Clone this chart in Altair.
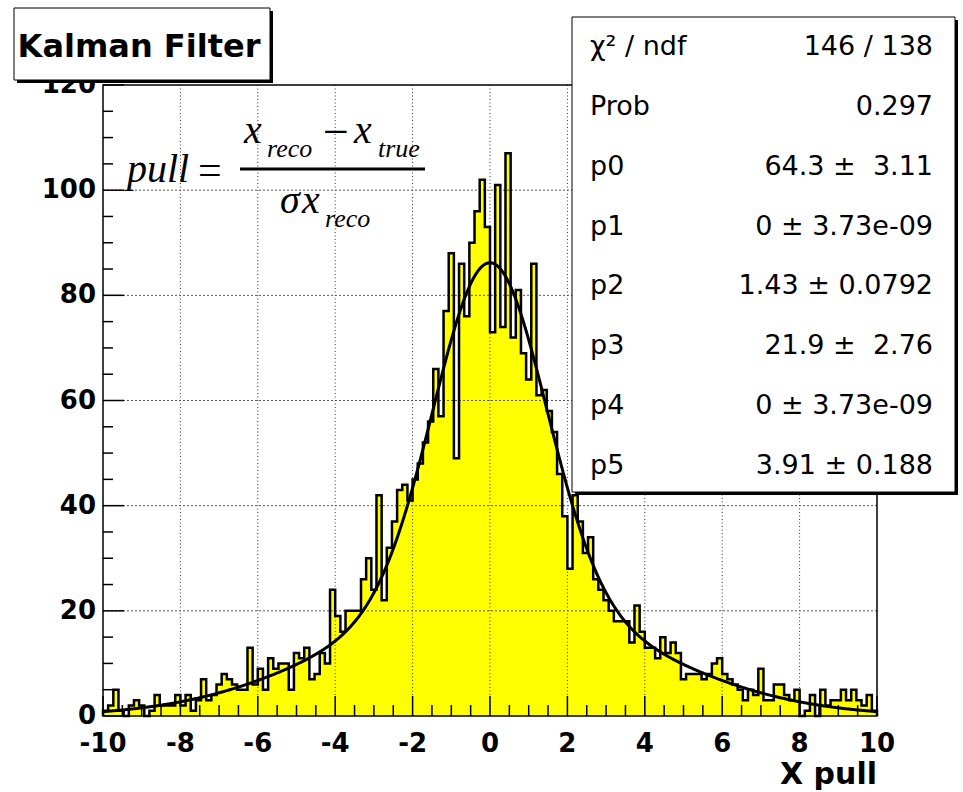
import altair as alt
import numpy as np
import pandas as pd

# ---------------------------------------------------------------
# Histogram of the X pull: 150 bins over [-10, 10]
# ---------------------------------------------------------------
X_MIN, X_MAX, N_BINS = -10.0, 10.0, 150
counts = [
    1, 2, 5, 1, 0, 2, 3, 2, 0, 1,
    4, 2, 2, 2, 4, 2, 4, 1, 3, 7,
    3, 4, 6, 8, 7, 6, 5, 5, 13, 6,
    9, 5, 11, 9, 10, 10, 5, 12, 11, 13,
    7, 8, 12, 10, 24, 19, 16, 20, 20, 20,
    26, 30, 24, 42, 22, 32, 37, 43, 44, 41,
    45, 48, 52, 56, 66, 57, 77, 88, 49, 86,
    76, 90, 96, 102, 93, 73, 101, 74, 107, 72,
    81, 69, 64, 86, 61, 62, 58, 54, 46, 38,
    28, 42, 37, 31, 34, 26, 24, 22, 20, 18,
    18, 18, 14, 21, 16, 13, 13, 11, 15, 12,
    14, 12, 7, 8, 8, 8, 7, 8, 10, 11,
    8, 7, 6, 5, 3, 5, 4, 9, 3, 3,
    6, 6, 4, 3, 5, 0, 1, 4, 0, 5,
    2, 3, 3, 5, 3, 5, 3, 2, 4, 1,
]

# Double-Gaussian fit result (p0..p5)
fit_params = [64.3, 0.0, 1.43, 21.9, 0.0, 3.91]

# Fit statistics box
stat_names = ["χ² / ndf", "Prob", "p0", "p1", "p2", "p3", "p4", "p5"]
stat_values = [
    "146 / 138",
    "0.297",
    "64.3 ±\u00a0 3.11",
    "0 ± 3.73e-09",
    "1.43 ± 0.0792",
    "21.9 ±\u00a0 2.76",
    "0 ± 3.73e-09",
    "3.91 ± 0.188",
]

# Axis ticks
x_major = [-10, -8, -6, -4, -2, 0, 2, 4, 6, 8, 10]
x_minor = [v / 2 for v in range(-20, 21) if v % 4 != 0]
y_major = [0, 20, 40, 60, 80, 100, 120]
y_minor = [v for v in range(0, 121, 5) if v % 20 != 0]

W, H = 774, 631

x_scale = alt.Scale(domain=[X_MIN, X_MAX], nice=False, zero=False)
y_scale = alt.Scale(domain=[0, 120], nice=False, zero=False)

edges = np.linspace(X_MIN, X_MAX, N_BINS + 1)

# filled area (step), one extra point closes the last bin
area_df = pd.DataFrame({
    "x": list(edges[:-1]) + [X_MAX],
    "n": counts + [counts[-1]],
})

# contour: starts and ends on the baseline
outline_df = pd.DataFrame({
    "x": [X_MIN] + list(edges[:-1]) + [X_MAX, X_MAX],
    "n": [0] + counts + [counts[-1], 0],
})
outline_df["k"] = np.arange(len(outline_df))

p0, p1, p2, p3, p4, p5 = fit_params
xs = np.linspace(X_MIN, X_MAX, 801)
fit_df = pd.DataFrame({
    "x": xs,
    "f": p0 * np.exp(-0.5 * ((xs - p1) / p2) ** 2)
    + p3 * np.exp(-0.5 * ((xs - p4) / p5) ** 2),
})

LABEL_FONT = "DejaVu Sans"

fill = alt.Chart(area_df).mark_area(
    color="#ffff00", interpolate="step-after"
).encode(
    x=alt.X("x:Q", scale=x_scale, axis=None),
    y=alt.Y("n:Q", scale=y_scale, axis=None),
)

vgrid = alt.Chart(pd.DataFrame({"v": x_major[1:-1]})).mark_rule(
    color="#333333", strokeDash=[1, 2.5], strokeWidth=1
).encode(
    x=alt.X("v:Q", scale=x_scale, axis=None),
    y=alt.value(0), y2=alt.value(H),
)
hgrid = alt.Chart(pd.DataFrame({"v": y_major[1:-1]})).mark_rule(
    color="#555555", strokeDash=[2, 2], strokeWidth=1
).encode(
    y=alt.Y("v:Q", scale=y_scale, axis=None),
    x=alt.value(0), x2=alt.value(W),
)

outline = alt.Chart(outline_df).mark_line(
    color="black", strokeWidth=2.5, interpolate="step-after"
).encode(
    x=alt.X("x:Q", scale=x_scale, axis=None),
    y=alt.Y("n:Q", scale=y_scale, axis=None),
    order="k:Q",
)

curve = alt.Chart(fit_df).mark_line(color="black", strokeWidth=3).encode(
    x=alt.X("x:Q", scale=x_scale, axis=None),
    y=alt.Y("f:Q", scale=y_scale, axis=None),
)


# ticks drawn inside the frame
def x_ticks(vals, length):
    return alt.Chart(pd.DataFrame({"v": vals})).mark_rule(
        color="black", strokeWidth=1.5
    ).encode(
        x=alt.X("v:Q", scale=x_scale, axis=None),
        y=alt.value(H), y2=alt.value(H - length),
    )


def y_ticks(vals, length):
    return alt.Chart(pd.DataFrame({"v": vals})).mark_rule(
        color="black", strokeWidth=1.5
    ).encode(
        y=alt.Y("v:Q", scale=y_scale, axis=None),
        x=alt.value(0), x2=alt.value(length),
    )


# tick labels, placed through the same scales
x_labels = alt.Chart(pd.DataFrame({"v": x_major})).transform_calculate(
    txt="'' + datum.v"
).mark_text(
    font=LABEL_FONT, fontSize=26, fontWeight="bold", color="black",
    align="center", baseline="top",
).encode(
    x=alt.X("v:Q", scale=x_scale, axis=None),
    y=alt.value(H + 15),
    text="txt:N",
)
y_labels = alt.Chart(pd.DataFrame({"v": y_major})).transform_calculate(
    txt="'' + datum.v"
).mark_text(
    font=LABEL_FONT, fontSize=26, fontWeight="bold", color="black",
    align="right", baseline="middle",
).encode(
    y=alt.Y("v:Q", scale=y_scale, axis=None),
    x=alt.value(-7),
    text="txt:N",
)

one = pd.DataFrame({"k": [0]})

frame = alt.Chart(one).mark_rect(
    fill="transparent", stroke="black", strokeWidth=1.5
).encode(x=alt.value(0), x2=alt.value(W), y=alt.value(0), y2=alt.value(H))


def label(text, x, y, size, font="Liberation Serif", style="italic",
          weight="normal", align="left", baseline="alphabetic"):
    return alt.Chart(pd.DataFrame({"t": [text]})).mark_text(
        font=font, fontSize=size, fontStyle=style, fontWeight=weight,
        align=align, baseline=baseline, color="black",
    ).encode(x=alt.value(x), y=alt.value(y), text="t:N")


# pull = (x_reco - x_true) / (sigma x_reco)
formula = [
    label("pull", 24, 97, 40),
    label("=", 95, 99, 42, style="normal"),
    label("x", 141, 58, 40),
    label("reco", 164, 72, 26),
    label("\u2212", 233, 48, 46, style="normal", align="center",
          baseline="middle"),
    label("x", 251, 58, 40),
    label("true", 275, 72, 26),
    label("σ", 177, 128, 40),
    label("x", 199, 128, 40),
    label("reco", 222, 142, 26),
]
frac_bar = alt.Chart(one).mark_rule(color="black", strokeWidth=3).encode(
    x=alt.value(137), x2=alt.value(322), y=alt.value(84)
)

# statistics box
SB_X0, SB_X1, SB_Y0, SB_Y1 = 469, 852, -68, 407
stats_shadow = alt.Chart(one).mark_rect(fill="black").encode(
    x=alt.value(SB_X0 + 3), x2=alt.value(SB_X1 + 3),
    y=alt.value(SB_Y0 + 3), y2=alt.value(SB_Y1 + 3),
)
stats_box = alt.Chart(one).mark_rect(
    fill="white", stroke="black", strokeWidth=1
).encode(
    x=alt.value(SB_X0), x2=alt.value(SB_X1),
    y=alt.value(SB_Y0), y2=alt.value(SB_Y1),
)
stats_text = []
for i, (nm, val) in enumerate(zip(stat_names, stat_values)):
    base = -29.8 + 59.8 * i
    stats_text.append(label(nm, 487, base, 27, font=LABEL_FONT, style="normal"))
    stats_text.append(label(val, 830, base, 27, font=LABEL_FONT,
                            style="normal", align="right"))

# title box
title_shadow = alt.Chart(one).mark_rect(fill="black").encode(
    x=alt.value(-86), x2=alt.value(170), y=alt.value(-74), y2=alt.value(-2)
)
title_box = alt.Chart(one).mark_rect(
    fill="white", stroke="black", strokeWidth=1
).encode(x=alt.value(-89), x2=alt.value(167), y=alt.value(-77), y2=alt.value(-5))
title_text = label("Kalman Filter", 36, -28, 32, font=LABEL_FONT,
                   style="normal", weight="bold", align="center")

x_title = label("X pull", W, 699, 30, font=LABEL_FONT, style="normal",
                weight="bold", align="right")

chart = alt.layer(
    fill, vgrid, hgrid, outline, curve,
    x_ticks(x_major, 20), x_ticks(x_minor, 11),
    y_ticks(y_major, 21), y_ticks(y_minor, 10),
    frame, x_labels, y_labels, frac_bar, *formula,
    stats_shadow, stats_box, *stats_text,
    title_shadow, title_box, title_text, x_title,
).properties(
    width=W, height=H,
    padding={"left": 103, "top": 85, "right": 86, "bottom": 76},
    autosize=alt.AutoSizeParams(type="none"),
    background="white",
).configure_view(strokeWidth=0)

chart.save("out.html", embed_options={"renderer": "svg", "actions": False})
